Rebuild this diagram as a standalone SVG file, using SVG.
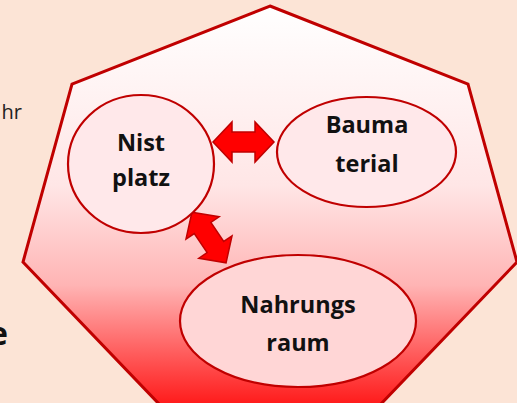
<svg xmlns="http://www.w3.org/2000/svg" width="517" height="403" viewBox="0 0 517 403">
  <defs>
    <linearGradient id="hepGrad" x1="0" y1="0" x2="0" y2="1">
      <stop offset="0" stop-color="#ffffff"/>
      <stop offset="0.45" stop-color="#ffe6e6"/>
      <stop offset="0.7" stop-color="#ffb4b4"/>
      <stop offset="1" stop-color="#ff1a1a"/>
    </linearGradient>
    <path id="dblArrow" d="M-30.5,0 L-11.5,-20 L-11.5,-10 L11.5,-10 L11.5,-20 L30.5,0 L11.5,20 L11.5,10 L-11.5,10 L-11.5,20 Z"/>
  </defs>
  <style>
    .bubble { stroke: #c00000; stroke-width: 2.2; }
    .lbl { font-family: "Open Sans", "Liberation Sans", sans-serif; font-weight: 700; font-size: 23.5px; fill: #111; text-anchor: middle; }
    .arrow { fill: #ff0000; stroke: #c00000; stroke-width: 1.5; stroke-linejoin: miter; }
  </style>
  <rect x="0" y="0" width="517" height="403" fill="#fce4d6"/>
  <text x="22" y="119" font-family="'Open Sans', 'Liberation Sans', sans-serif" font-size="20" fill="#222" text-anchor="end">hr</text>
  <text x="-11" y="345" font-family="'Open Sans', 'Liberation Sans', sans-serif" font-size="32" font-weight="700" fill="#111">e</text>
  <g id="heptagon">
    <polygon points="270,6 468,84 517,262 380,405 160,405 23,262 72,84" fill="url(#hepGrad)" stroke="#c00000" stroke-width="3"/>
  </g>
  <g id="connectors">
    <use href="#dblArrow" class="arrow" transform="translate(243.5,142)"/>
    <use href="#dblArrow" class="arrow" transform="translate(209,237.5) rotate(56)"/>
  </g>
  <g id="nistplatz">
    <ellipse class="bubble" cx="141" cy="164" rx="73" ry="69" fill="#ffe8ea"/>
    <text class="lbl" x="141" y="151">Nist</text>
    <text class="lbl" x="141" y="186">platz</text>
  </g>
  <g id="baumaterial">
    <ellipse class="bubble" cx="366.5" cy="152" rx="89.5" ry="55" fill="#ffe8ea"/>
    <text class="lbl" x="367" y="133">Bauma</text>
    <text class="lbl" x="367" y="172">terial</text>
  </g>
  <g id="nahrungsraum">
    <ellipse class="bubble" cx="298" cy="321" rx="118" ry="66" fill="#ffd6d6"/>
    <text class="lbl" x="298" y="313">Nahrungs</text>
    <text class="lbl" x="298" y="351">raum</text>
  </g>
</svg>
